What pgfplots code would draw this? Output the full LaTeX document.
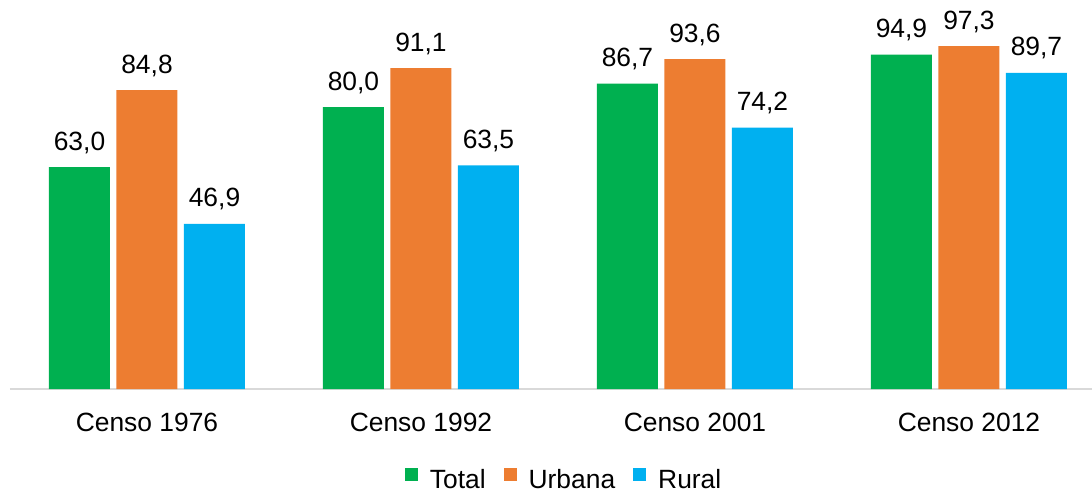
\documentclass[border=0pt]{standalone}
\usepackage{fontspec}
\setmainfont{Liberation Sans}
\usepackage{pgfplots}
\pgfplotsset{compat=1.18}
\definecolor{cTotal}{HTML}{00B050}
\definecolor{cUrbana}{HTML}{ED7D31}
\definecolor{cRural}{HTML}{00B0F0}
\newcommand{\chartfont}{\fontsize{13.2}{15}\selectfont}
\begin{document}
\begin{tikzpicture}
\begin{axis}[
    name=ax,
    scale only axis,
    width=541pt,
    height=194.5pt,
    xmin=-0.5, xmax=3.449,
    ymin=0, ymax=110.4,
    enlargelimits=false,
    ybar,
    bar width=30.5pt,
    axis y line=none,
    axis x line*=bottom,
    x axis line style={-, draw=black!15, line width=1pt},
    xtick={0,1,2,3},
    xticklabels={Censo 1976, Censo 1992, Censo 2001, Censo 2012},
    xtick style={draw=none},
    xticklabel style={font=\chartfont, yshift=-4pt},
    nodes near coords={\pgfmathprintnumber[fixed,fixed zerofill,precision=1,use comma,assume math mode=true]{\pgfplotspointmeta}},
    nodes near coords style={font=\chartfont, anchor=base, yshift=8.5pt, text=black},
    legend columns=-1,
    legend style={draw=none, at={(0.513,-0.236)}, anchor=center, font=\chartfont,
        /tikz/every odd column/.append style={column sep=4pt},
        /tikz/every even column/.append style={column sep=7pt}},
    legend image code/.code={\fill[#1] (0pt,0pt) rectangle (6.5pt,6.5pt);},
]
\addplot[fill=cTotal, draw=none, bar shift=-33.75pt]
    coordinates {(0,63.0) (1,80.0) (2,86.7) (3,94.9)};
\addplot[fill=cUrbana, draw=none, bar shift=0pt]
    coordinates {(0,84.8) (1,91.1) (2,93.6) (3,97.3)};
\addplot[fill=cRural, draw=none, bar shift=33.75pt]
    coordinates {(0,46.9) (1,63.5) (2,74.2) (3,89.7)};
\legend{Total, Urbana, Rural}
\end{axis}
\pgfresetboundingbox
\path[use as bounding box] ([xshift=-5pt,yshift=-50.5pt]ax.south west) rectangle (ax.north east);
\end{tikzpicture}
\end{document}
